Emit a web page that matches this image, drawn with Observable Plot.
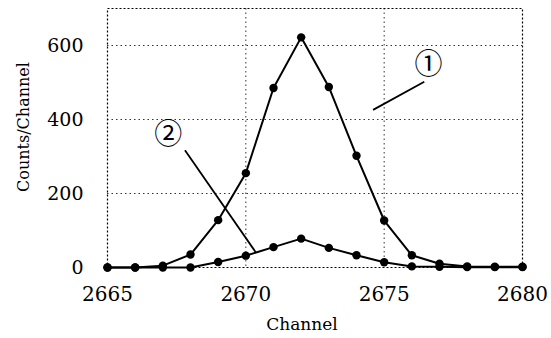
<!DOCTYPE html>
<html>
<head>
<meta charset="utf-8">
<script src="https://cdn.jsdelivr.net/npm/d3@7"></script>
<script src="https://cdn.jsdelivr.net/npm/@observablehq/plot@0.6"></script>
<style>
  html, body { margin: 0; padding: 0; background: #fff; }
  #chart svg { display: block; }
</style>
</head>
<body>
<div id="chart"></div>
<script>
const channels = [2665, 2666, 2667, 2668, 2669, 2670, 2671, 2672, 2673, 2674, 2675, 2676, 2677, 2678, 2679, 2680];
const series1 = [0, 0, 5, 35, 128, 255, 485, 622, 488, 302, 127, 33, 10, 3, 2, 2];
const series2 = [0, 0, 0, 0, 15, 32, 55, 78, 53, 33, 14, 3, 2, 1, 1, 1];
const xTicks = [2665, 2670, 2675, 2680];
const yTicks = [0, 200, 400, 600];
const labels = [
  {text: "①", x: 2676.6, y: 547},
  {text: "②", x: 2667.2, y: 357}
];
const leaders = [
  {x1: 2674.6, y1: 426, x2: 2676.45, y2: 502},
  {x1: 2667.8, y1: 317, x2: 2670.35, y2: 42}
];

const rows1 = channels.map((c, i) => ({x: c, y: series1[i]}));
const rows2 = channels.map((c, i) => ({x: c, y: series2[i]}));

const chart = Plot.plot({
  width: 551,
  height: 338,
  marginLeft: 107,
  marginRight: 29,
  marginTop: 8,
  marginBottom: 71,
  style: {fontSize: "22px", color: "#000", background: "#fff"},
  x: {domain: [2665, 2680], ticks: xTicks, tickSize: 0, tickPadding: 19, tickFormat: d => String(d),
      label: "Channel", labelAnchor: "center", labelOffset: 62, labelArrow: false},
  y: {domain: [0, 700], ticks: yTicks, tickSize: 0, tickPadding: 24,
      label: "Counts/Channel", labelAnchor: "center", labelOffset: 90, labelArrow: false},
  marks: [
    Plot.gridX(xTicks.slice(1, 3), {stroke: "#000", strokeOpacity: 0.8, strokeDasharray: "1.5,3", strokeWidth: 1}),
    Plot.gridY(yTicks.slice(1), {stroke: "#000", strokeOpacity: 0.8, strokeDasharray: "1.5,3", strokeWidth: 1}),
    Plot.frame({stroke: "#000", strokeDasharray: "2,2", strokeWidth: 1.2}),
    Plot.line(rows1, {x: "x", y: "y", stroke: "#000", strokeWidth: 2}),
    Plot.line(rows2, {x: "x", y: "y", stroke: "#000", strokeWidth: 2}),
    Plot.dot(rows1, {x: "x", y: "y", r: 4.2, fill: "#000"}),
    Plot.dot(rows2, {x: "x", y: "y", r: 4.2, fill: "#000"}),
    Plot.link(leaders, {x1: "x1", y1: "y1", x2: "x2", y2: "y2", stroke: "#000", strokeWidth: 1.8}),
    Plot.text(labels, {x: "x", y: "y", text: "text", fontSize: 28, fill: "#000", className: "circled"})
  ]
});
chart.setAttribute("font-family", "DejaVu Serif");
chart.style.fontFamily = "'DejaVu Serif', serif";
chart.querySelectorAll("text, g").forEach(t => { t.setAttribute("font-family", "DejaVu Serif"); t.style.fontFamily = "'DejaVu Serif', serif"; });
chart.querySelectorAll(".circled, .circled text").forEach(t => {
  t.setAttribute("font-family", "Noto Sans CJK JP");
  t.style.fontFamily = "'Noto Sans CJK JP', sans-serif";
  t.style.fontSize = "28px";
});
chart.querySelectorAll('g[aria-label="x-axis tick label"] text').forEach(t => t.style.fontSize = "20px");
chart.querySelectorAll('g[aria-label="y-axis tick label"] text').forEach(t => t.style.fontSize = "19px");
chart.querySelectorAll('g[aria-label="x-axis label"] text').forEach(t => t.style.fontSize = "17px");
chart.querySelectorAll('g[aria-label="y-axis label"] text').forEach(t => t.style.fontSize = "16px");
const yl = chart.querySelector('g[aria-label="y-axis label"]');
if (yl) yl.setAttribute("transform", (yl.getAttribute("transform") || "") + " translate(0,-11)");
const xl = chart.querySelector('g[aria-label="x-axis label"]');
if (xl) xl.setAttribute("transform", (xl.getAttribute("transform") || "") + " translate(-13,0)");
document.getElementById("chart").appendChild(chart);
</script>
</body>
</html>
